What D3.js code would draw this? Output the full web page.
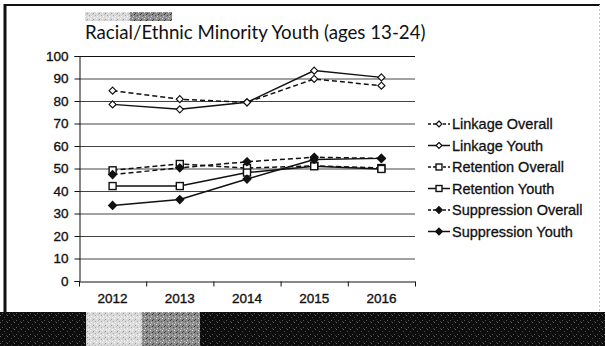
<!DOCTYPE html>
<html>
<head>
<meta charset="utf-8">
<script src="https://cdn.jsdelivr.net/npm/d3@7"></script>
<style>
  body { margin: 0; background: #fff; }
  svg { display: block; }
</style>
</head>
<body>
<div id="chart"></div>
<script>
const years = ["2012", "2013", "2014", "2015", "2016"];
const yTicks = [0, 10, 20, 30, 40, 50, 60, 70, 80, 90, 100];

const linkageOverall = [84.6, 80.8, 79.4, 89.8, 86.8];
const linkageYouth = [78.5, 76.3, 79.4, 93.5, 90.5];
const retentionOverall = [49.2, 52.0, 50.2, 51.2, 50.2];
const retentionYouth = [42.2, 42.2, 48.2, 51.0, 49.8];
const suppressionOverall = [47.3, 50.3, 53.0, 55.0, 54.5];
const suppressionYouth = [33.6, 36.2, 45.3, 54.0, 54.5];

const seriesNames = ["Linkage Overall", "Linkage Youth", "Retention Overall",
    "Retention Youth", "Suppression Overall", "Suppression Youth"];

const series = [
    { name: seriesNames[0], values: linkageOverall, dashed: true, marker: "diamond", filled: false },
    { name: seriesNames[1], values: linkageYouth, dashed: false, marker: "diamond", filled: false },
    { name: seriesNames[2], values: retentionOverall, dashed: true, marker: "square", filled: false },
    { name: seriesNames[3], values: retentionYouth, dashed: false, marker: "square", filled: false },
    { name: seriesNames[4], values: suppressionOverall, dashed: true, marker: "diamond", filled: true },
    { name: seriesNames[5], values: suppressionYouth, dashed: false, marker: "diamond", filled: true }
];

const W = 605, H = 346;
const font = "'Liberation Sans', Arial, sans-serif";
const svg = d3.select("#chart").append("svg")
    .attr("width", W)
    .attr("height", H);

// frame
svg.append("rect").attr("x", 0).attr("y", 0).attr("width", W).attr("height", H).attr("fill", "#fff");
svg.append("line").attr("x1", 5).attr("x2", 5).attr("y1", 4).attr("y2", 312)
    .attr("stroke", "#111").attr("stroke-width", 3);
svg.append("line").attr("x1", 4).attr("x2", 600).attr("y1", 5).attr("y2", 5)
    .attr("stroke", "#111").attr("stroke-width", 2);
svg.append("line").attr("x1", 599.5).attr("x2", 599.5).attr("y1", 5).attr("y2", 312)
    .attr("stroke", "#c8c8c8").attr("stroke-width", 1).attr("stroke-dasharray", "2,2");

// redacted logo above the title
const defs = svg.append("defs");
function noisePattern(id, base, dots, size) {
    const p = defs.append("pattern").attr("id", id)
        .attr("width", size).attr("height", size).attr("patternUnits", "userSpaceOnUse");
    p.append("rect").attr("width", size).attr("height", size).attr("fill", base);
    dots.forEach(d => p.append("rect").attr("x", d[0]).attr("y", d[1])
        .attr("width", 1).attr("height", 1).attr("fill", d[2]));
}
noisePattern("lightNoise", "#dadada", [[0,0,"#fff"],[3,1,"#9a9a9a"],[1,4,"#fff"],[5,3,"#aaa"],[4,5,"#fff"],[2,2,"#bbb"]], 6);
noisePattern("midNoise", "#8c8c8c", [[0,0,"#ddd"],[3,1,"#444"],[1,4,"#ccc"],[5,3,"#555"],[4,5,"#bbb"],[2,2,"#333"]], 6);
noisePattern("darkNoise", "#0d0d0d", [[0,0,"#666"],[4,2,"#4a4a4a"],[2,5,"#555"],[6,6,"#3a3a3a"],[5,4,"#222"]], 7);

svg.append("rect").attr("x", 85).attr("y", 12).attr("width", 45).attr("height", 9).attr("fill", "url(#lightNoise)");
svg.append("rect").attr("x", 130).attr("y", 12).attr("width", 42).attr("height", 9).attr("fill", "url(#midNoise)");

// bottom band
svg.append("rect").attr("x", 0).attr("y", 312).attr("width", W).attr("height", H - 312).attr("fill", "url(#darkNoise)");
svg.append("rect").attr("x", 86).attr("y", 312).attr("width", 56).attr("height", 34).attr("fill", "url(#lightNoise)");
svg.append("rect").attr("x", 142).attr("y", 312).attr("width", 58).attr("height", 34).attr("fill", "url(#midNoise)");

// title
svg.append("text")
    .attr("x", 85).attr("y", 39)
    .attr("font-family", "Lato, 'Open Sans', sans-serif")
    .attr("font-size", 18.7)
    .attr("fill", "#111")
    .text("Racial/Ethnic Minority Youth (ages 13-24)");

const plot = { left: 79, right: 415, top: 56, bottom: 281 };

const x = d3.scaleBand().domain(years).range([plot.left, plot.right]);
const y = d3.scaleLinear().domain([0, 100]).range([plot.bottom, plot.top]);

// gridlines
svg.append("g").selectAll("line")
    .data(yTicks.filter(t => t > 0))
    .enter().append("line")
    .attr("x1", plot.left).attr("x2", plot.right)
    .attr("y1", d => y(d) + 0.5).attr("y2", d => y(d) + 0.5)
    .attr("stroke", d => d === 100 ? "#111" : "#444")
    .attr("stroke-width", 1);

// y axis
const yAxis = svg.append("g")
    .attr("transform", `translate(${plot.left + 0.5},0)`)
    .call(d3.axisLeft(y).tickValues(yTicks).tickSize(5).tickPadding(6));
yAxis.selectAll("text")
    .attr("font-family", font)
    .attr("font-size", 13.5).attr("fill", "#111")
    .attr("stroke", "#111").attr("stroke-width", 0.35);
yAxis.selectAll("line, path").attr("stroke", "#111");

// x axis with ticks between categories
const xAxis = svg.append("g")
    .attr("transform", `translate(0,${plot.bottom + 0.5})`)
    .call(d3.axisBottom(x).tickSize(0).tickPadding(12));
xAxis.select("path").attr("stroke", "#111");
xAxis.selectAll("text")
    .attr("font-family", font)
    .attr("font-size", 13.5).attr("fill", "#111")
    .attr("stroke", "#111").attr("stroke-width", 0.35);
xAxis.selectAll(".boundary")
    .data(years.map(d => x(d)).concat([plot.right]))
    .enter().append("line")
    .attr("class", "boundary")
    .attr("x1", d => d + 0.5).attr("x2", d => d + 0.5)
    .attr("y1", 0).attr("y2", 5)
    .attr("stroke", "#111");

const cx = d => x(d) + x.bandwidth() / 2;

function drawMarker(g, s, px, py, k = 1) {
    if (s.marker === "diamond") {
        const r = (s.filled ? 4 : 3.5) * k;
        g.append("path")
            .attr("d", `M${px},${py - r}L${px + r},${py}L${px},${py + r}L${px - r},${py}Z`)
            .attr("fill", s.filled ? "#111" : "#fff")
            .attr("stroke", "#111").attr("stroke-width", 1.2);
    } else {
        const h = 3.5 * k;
        g.append("rect")
            .attr("x", px - h).attr("y", py - h)
            .attr("width", 2 * h).attr("height", 2 * h)
            .attr("fill", "#fff")
            .attr("stroke", "#111").attr("stroke-width", 1.4);
    }
}

const line = d3.line()
    .x(d => cx(d.year))
    .y(d => y(d.value));

const linesG = svg.append("g");
series.forEach(s => {
    const pts = years.map((yr, i) => ({ year: yr, value: s.values[i] }));
    linesG.append("path")
        .datum(pts)
        .attr("d", line)
        .attr("fill", "none")
        .attr("stroke", "#111")
        .attr("stroke-width", 1.5)
        .attr("stroke-dasharray", s.dashed ? "5,3" : null);
});
series.forEach(s => {
    years.forEach((yr, i) => drawMarker(linesG, s, cx(yr), y(s.values[i])));
});

// legend
const legend = svg.append("g");
series.forEach((s, i) => {
    const ly = 124 + i * 21.5;
    legend.append("line")
        .attr("x1", 428).attr("x2", 450)
        .attr("y1", ly).attr("y2", ly)
        .attr("stroke", "#111").attr("stroke-width", 1.5)
        .attr("stroke-dasharray", s.dashed ? "3,2" : null);
    drawMarker(legend, s, 439, ly, 0.85);
    legend.append("text")
        .attr("x", 452).attr("y", ly + 5)
        .attr("font-family", font)
        .attr("font-size", 14.5).attr("fill", "#111")
        .attr("stroke", "#111").attr("stroke-width", 0.3)
        .text(s.name);
});
</script>
</body>
</html>
